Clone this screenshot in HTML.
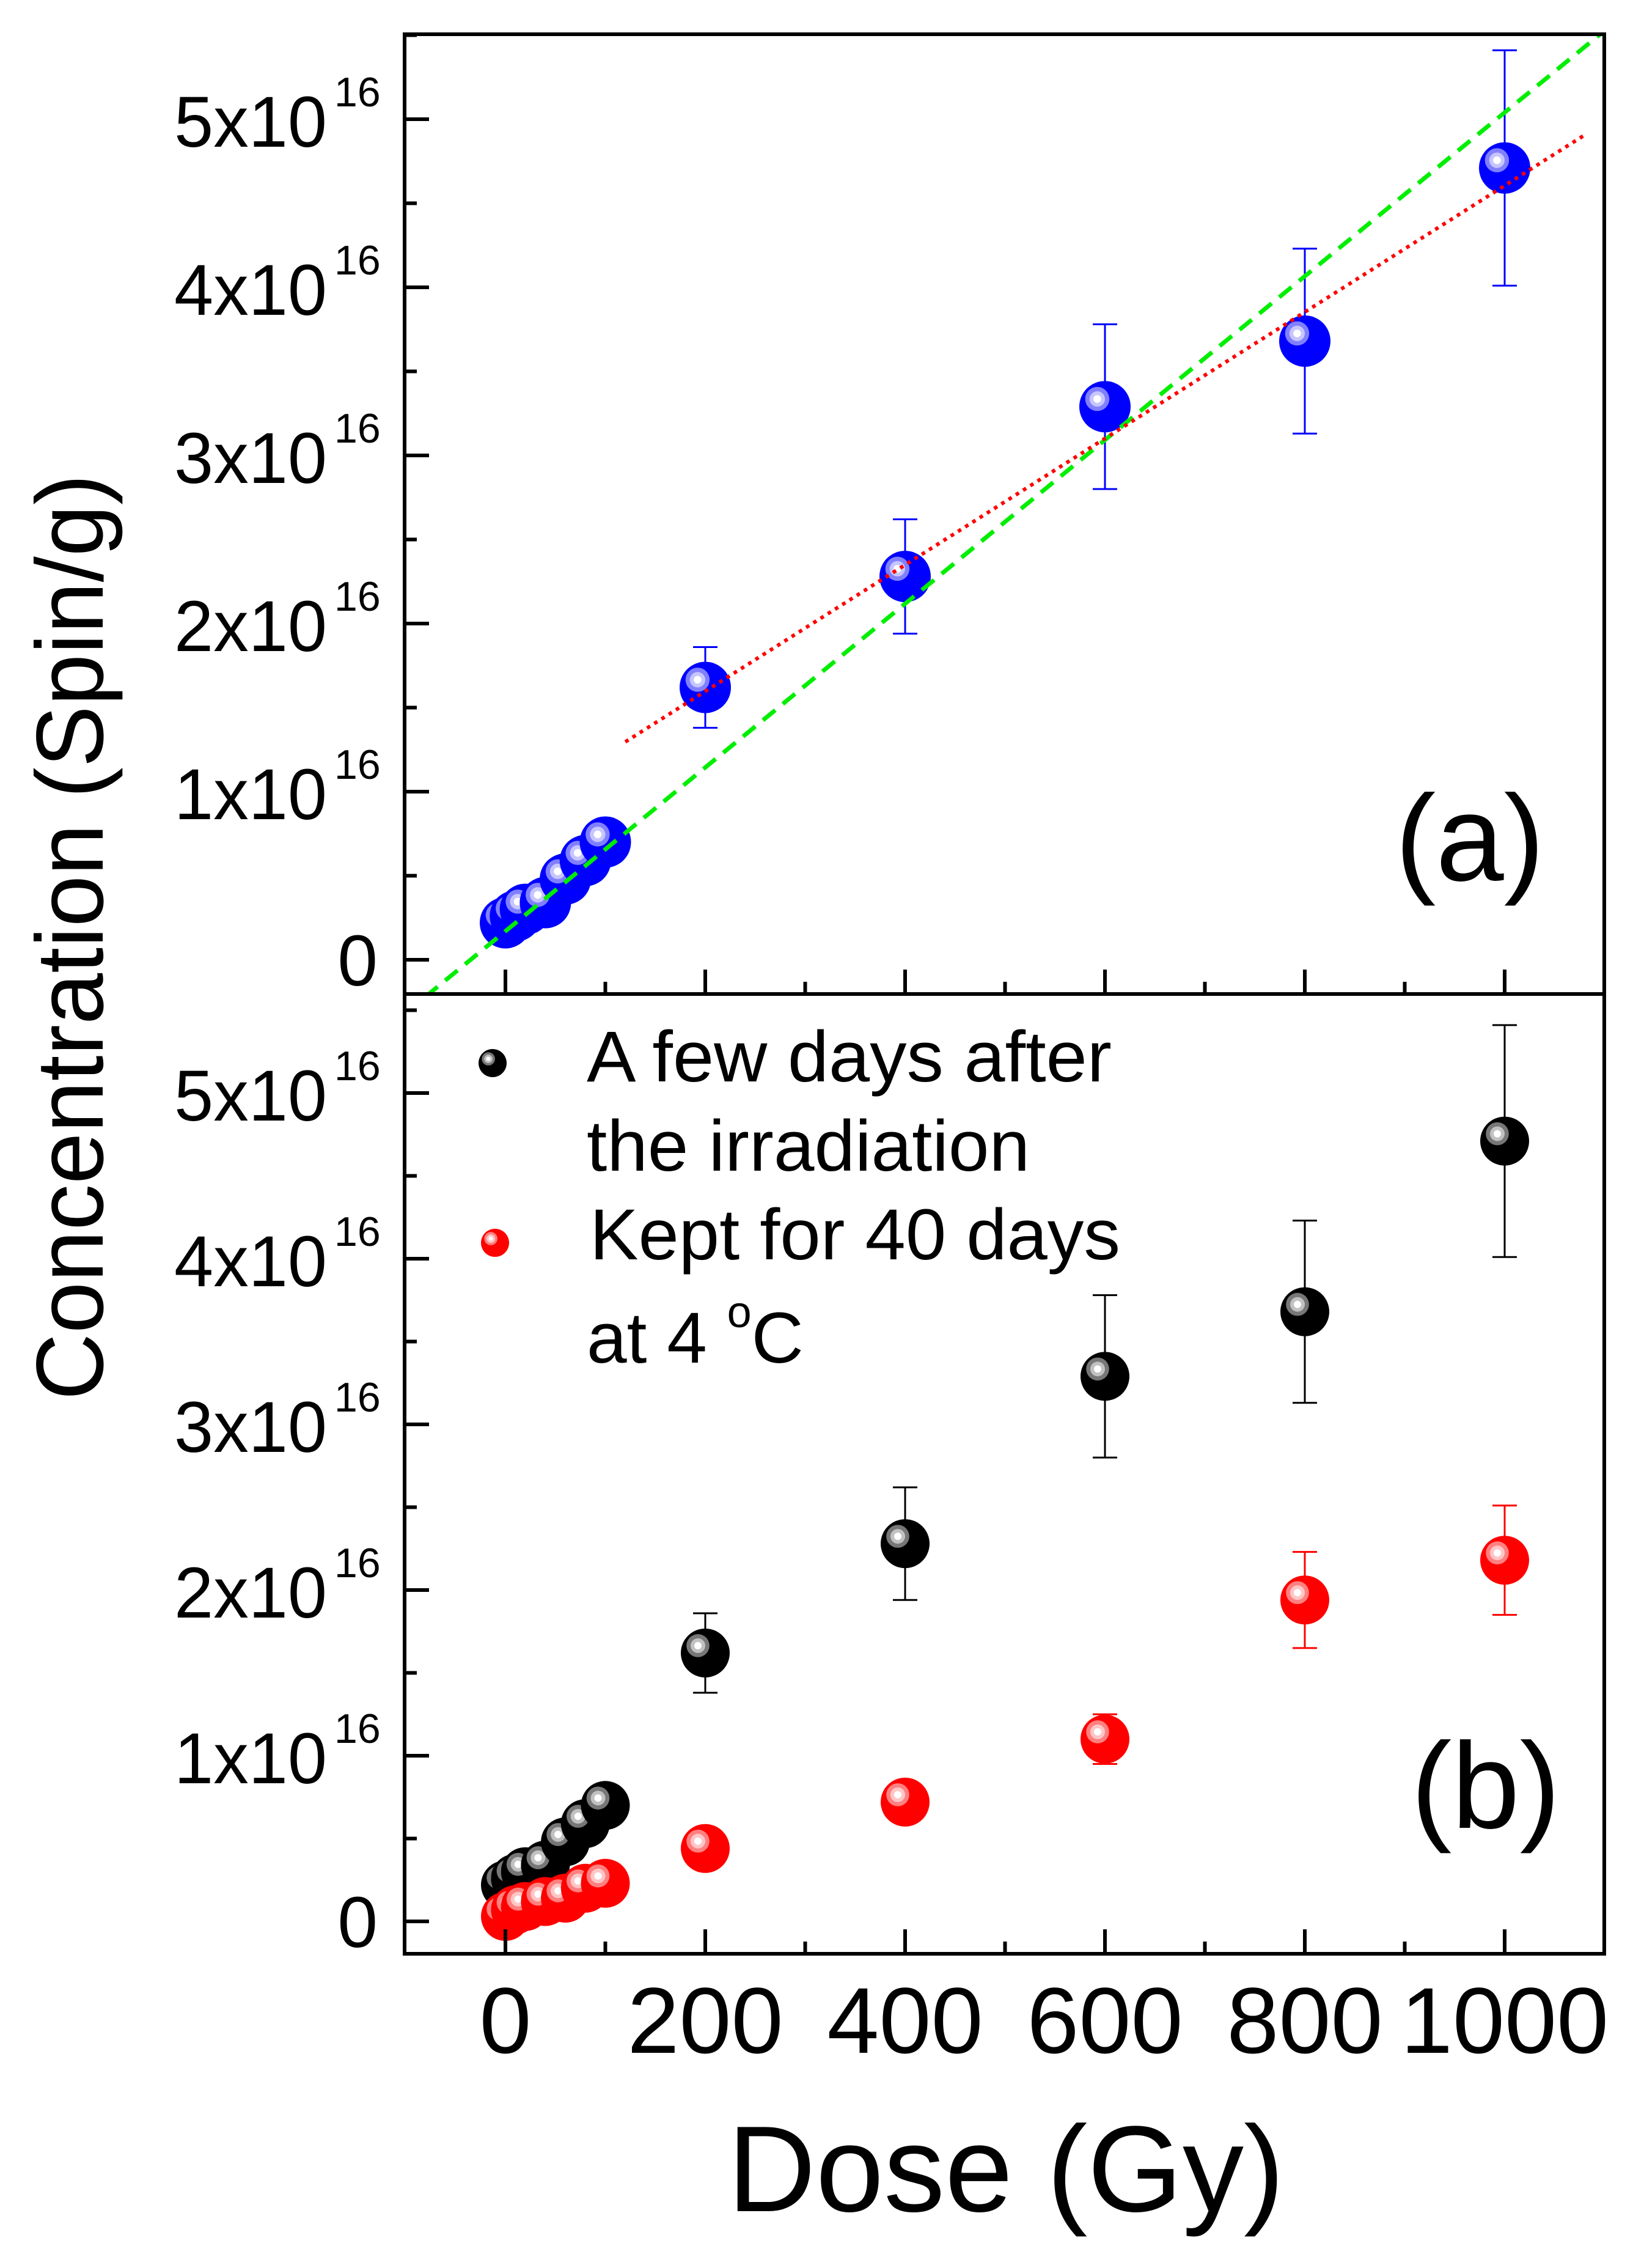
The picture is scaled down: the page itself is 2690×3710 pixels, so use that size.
<!DOCTYPE html>
<html><head><meta charset="utf-8">
<style>html,body{margin:0;padding:0;background:#fff}svg{display:block}text{font-family:"Liberation Sans",Arial,sans-serif;fill:#000}</style>
</head><body>
<svg id="chart" xmlns="http://www.w3.org/2000/svg" width="2690" height="3710" viewBox="0 0 2690 3710">
<defs></defs>
<rect x="0" y="0" width="2690" height="3710" fill="#fff"/>
<g id="marks"></g>
<g id="axes"></g>
<text transform="translate(168,1533) rotate(-90)" text-anchor="middle" font-size="156" textLength="1515" lengthAdjust="spacingAndGlyphs">Concentration (Spin/g)</text>
<text x="1646" y="3617" text-anchor="middle" font-size="200">Dose (Gy)</text>
<text x="2405" y="1440" text-anchor="middle" font-size="200">(a)</text>
<text x="2431" y="2990" text-anchor="middle" font-size="200">(b)</text>
<g>
<text x="960" y="1769" font-size="118" textLength="859" lengthAdjust="spacingAndGlyphs">A few days after</text>
<text x="960" y="1915" font-size="118" textLength="725" lengthAdjust="spacingAndGlyphs">the irradiation</text>
<text x="965" y="2060" font-size="118" textLength="868" lengthAdjust="spacingAndGlyphs">Kept for 40 days</text>
<text x="960" y="2229" font-size="118">at 4 <tspan font-size="72" dy="-58">o</tspan><tspan dy="58">C</tspan></text>
</g>
</svg>
<script>
// ---- data ----
const doses = [0, 10, 20, 40, 60, 80, 100, 200, 400, 600, 800, 1000];
const freshConc = [0.22, 0.26, 0.30, 0.34, 0.48, 0.59, 0.70, 1.62, 2.28, 3.29, 3.68, 4.71];
const freshErr = [0, 0, 0, 0, 0, 0, 0, 0.24, 0.34, 0.49, 0.55, 0.70];
const keptConc = [0.03, 0.07, 0.09, 0.12, 0.14, 0.20, 0.23, 0.44, 0.72, 1.10, 1.94, 2.18];
const keptErr = [0, 0, 0, 0, 0, 0, 0, 0, 0, 0.15, 0.29, 0.33];
const linFitA = [0.17, 0.00487];   // intercept, slope (green dashed)
const linFitB = [0.845, 0.00376];  // intercept, slope (red dotted)
const linFitBRange = [120, 1080];
const linFitARange = [-100, 1100];
const xTickLabels = ["0", "200", "400", "600", "800", "1000"];
const xTickValues = [0, 200, 400, 600, 800, 1000];
const yTickValues = [0, 1, 2, 3, 4, 5];

// ---- geometry ----
const L = 662, R = 2625, T = 56, MID = 1626, B = 3196;
const xs = d => 827 + (d) * (2462 - 827) / 1000;
const yTop = v => 1570 - v * 275;
const yBot = v => 3143 - v * 271;
const NS = "http://www.w3.org/2000/svg";
const marks = document.getElementById('marks');
const axes = document.getElementById('axes');
const svg = document.getElementById('chart');
function mk(tag, attrs, parent) {
  const e = document.createElementNS(NS, tag);
  for (const k in attrs) e.setAttribute(k, attrs[k]);
  parent.appendChild(e); return e;
}
function sphere(cx, cy, r, base, ring, parent, name) {
  const g = mk('g', {}, parent);
  
  
  mk('circle', {cx: cx, cy: cy, r: r, fill: base}, g);
  mk('circle', {cx: cx - r * 0.3, cy: cy - r * 0.3, r: r * 0.47, fill: ring}, g);
  mk('circle', {cx: cx - r * 0.3, cy: cy - r * 0.3, r: r * 0.3, fill: '#ffffff', 'fill-opacity': 0.55}, g);
  mk('circle', {cx: cx - r * 0.3, cy: cy - r * 0.3, r: r * 0.15, fill: '#ffffff'}, g);
}
function errbar(x, y1, y2, color, parent, name) {
  const g = mk('g', {stroke: color, 'stroke-width': 3}, parent);
  
  
  mk('line', {x1: x, x2: x, y1: y1, y2: y2}, g);
  mk('line', {x1: x - 20, x2: x + 20, y1: y1, y2: y1}, g);
  mk('line', {x1: x - 20, x2: x + 20, y1: y2, y2: y2}, g);
}

const defs = svg.querySelector('defs');
const cpA = mk('clipPath', {id: 'clipA'}, defs); mk('rect', {x: L, y: T, width: R - L, height: MID - T}, cpA);

// ---- top panel ----
doses.forEach((d, i) => {
  if (freshErr[i] > 0) errbar(xs(d), yTop(freshConc[i] + freshErr[i]), yTop(freshConc[i] - freshErr[i]), '#0000ff', marks, 'errorbar-a-' + d);
});
doses.forEach((d, i) => sphere(xs(d), yTop(freshConc[i]), 42, '#0000ff', '#8080ff', marks, 'point-a-' + d));
const fitGroup = mk('g', {'clip-path': 'url(#clipA)'}, marks);
const ga = mk('line', {x1: xs(linFitARange[0]), y1: yTop(linFitA[0] + linFitA[1] * linFitARange[0]), x2: xs(linFitARange[1]), y2: yTop(linFitA[0] + linFitA[1] * linFitARange[1]), stroke: '#00ee00', 'stroke-width': 7, 'stroke-dasharray': '26 16'}, fitGroup);


const rb = mk('line', {x1: xs(linFitBRange[0]), y1: yTop(linFitB[0] + linFitB[1] * linFitBRange[0]), x2: xs(linFitBRange[1]), y2: yTop(linFitB[0] + linFitB[1] * linFitBRange[1]), stroke: '#ff0000', 'stroke-width': 6, 'stroke-dasharray': '6 8'}, fitGroup);



// ---- bottom panel ----
doses.forEach((d, i) => {
  if (freshErr[i] > 0) errbar(xs(d), yBot(freshConc[i] + freshErr[i]), yBot(freshConc[i] - freshErr[i]), '#000000', marks, 'errorbar-fresh-' + d);
  if (keptErr[i] > 0) errbar(xs(d), yBot(keptConc[i] + keptErr[i]), yBot(keptConc[i] - keptErr[i]), '#ff0000', marks, 'errorbar-kept-' + d);
});
doses.forEach((d, i) => sphere(xs(d), yBot(freshConc[i]), 40, '#000000', '#777777', marks, 'point-fresh-' + d));
doses.forEach((d, i) => sphere(xs(d), yBot(keptConc[i]), 40, '#ff0000', '#ff8080', marks, 'point-kept-' + d));
sphere(806, 1739, 23, '#000000', '#777777', marks, 'legend-marker-fresh');
sphere(810, 2033, 23, '#ff0000', '#ff8080', marks, 'legend-marker-kept');

// ---- axes ----
const frame = mk('g', {stroke: '#000', 'stroke-width': 6, fill: 'none'}, axes);


mk('rect', {x: L, y: T, width: R - L, height: B - T}, frame);
mk('line', {x1: L, x2: R, y1: MID, y2: MID}, frame);
for (let d = 0; d <= 1000; d += 100) {
  const len = d % 200 === 0 ? 40 : 20;
  mk('line', {x1: xs(d), x2: xs(d), y1: MID, y2: MID - len}, frame);
  mk('line', {x1: xs(d), x2: xs(d), y1: B, y2: B - len}, frame);
}
for (let v = 0; v <= 5.5; v += 0.5) {
  const len = Number.isInteger(v) ? 40 : 20;
  if (yTop(v) > T) mk('line', {x1: L, x2: L + len, y1: yTop(v), y2: yTop(v)}, frame);
  if (yBot(v) > MID) mk('line', {x1: L, x2: L + len, y1: yBot(v), y2: yBot(v)}, frame);
}
xTickValues.forEach((d, i) => {
  const t = mk('text', {x: xs(d), y: 3358, 'text-anchor': 'middle', 'font-size': 153}, axes);
  
  
  t.textContent = xTickLabels[i];
});
[['a', yTop], ['b', yBot]].forEach(([p, ys]) => {
  yTickValues.forEach(v => {
    const t = mk('text', {'font-size': 118, 'text-anchor': 'end'}, axes);
    
    
    if (v === 0) {
      t.setAttribute('x', 618); t.setAttribute('y', ys(v) + 42);
      t.textContent = '0';
    } else {
      t.setAttribute('x', 535); t.setAttribute('y', ys(v) + 45);
      t.setAttribute('textLength', 250);
      t.setAttribute('lengthAdjust', 'spacingAndGlyphs');
      t.textContent = v + 'x10';
      const s = mk('text', {x: 547, y: ys(v) - 21, 'font-size': 68}, axes);
      
      
      s.textContent = '16';
    }
  });
});
</script>
</body></html>
